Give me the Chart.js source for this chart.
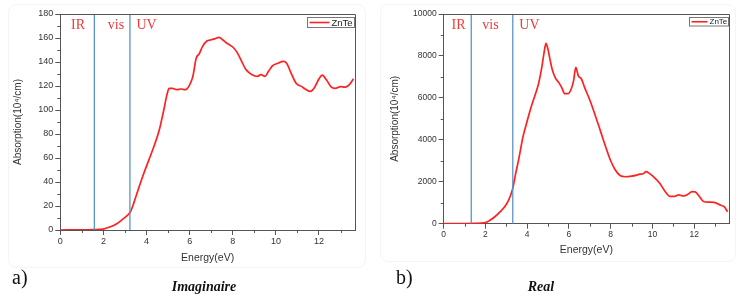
<!DOCTYPE html>
<html>
<head>
<meta charset="utf-8">
<script src="https://cdn.jsdelivr.net/npm/chart.js@4.4.0/dist/chart.umd.min.js"></script>
<style>
  html, body { margin:0; padding:0; background:#fff; }
  #wrap { position:relative; width:737px; height:298px; overflow:hidden; }
  canvas { position:absolute; top:0; }
  .frame { position:absolute; border:1px solid #f5f5f5; border-radius:8px; }
  .cap { position:absolute; font-family:'Liberation Serif','DejaVu Serif',serif; color:#111; white-space:nowrap; }
  .lab { font-size:20px; }
  .ttl { font-size:14px; font-weight:bold; font-style:italic; transform:translateX(-50%); }
</style>
</head>
<body>
<div id="wrap">
  <div class="frame" style="left:8px;top:4px;width:356px;height:262px;"></div>
  <div class="frame" style="left:380px;top:4px;width:354px;height:256px;"></div>
  <canvas id="c1" width="370" height="268" style="left:0;width:370px;height:268px;"></canvas>
  <canvas id="c2" width="367" height="268" style="left:370px;width:367px;height:268px;"></canvas>
  <div class="cap lab" style="left:12px;top:266px;">a)</div>
  <div class="cap ttl" style="left:204px;top:279px;">Imaginaire</div>
  <div class="cap lab" style="left:396px;top:266px;">b)</div>
  <div class="cap ttl" style="left:541px;top:279px;">Real</div>
</div>
<script>
// ---------- data ----------
const seriesName = 'ZnTe';
const regionLabels = ['IR', 'vis', 'UV'];

// (a) Imaginaire
const energyImag = [0, 1.0, 1.5, 2.0, 2.3, 2.6, 2.9, 3.1, 3.25, 3.4, 3.6, 3.85, 4.1, 4.35, 4.6, 4.8, 4.95, 5.05, 5.2, 5.4, 5.6, 5.8, 6.0, 6.15, 6.3, 6.45, 6.6, 6.8, 7.0, 7.2, 7.35, 7.5, 7.7, 8.0, 8.2, 8.4, 8.6, 8.8, 9.0, 9.15, 9.3, 9.5, 9.65, 9.85, 10.1, 10.35, 10.5, 10.7, 10.95, 11.2, 11.4, 11.6, 11.8, 12.0, 12.15, 12.35, 12.55, 12.75, 13.0, 13.2, 13.4, 13.6];
const absImag = [0, 0.1, 0.3, 0.8, 2.5, 5, 9, 12, 15, 22, 33, 46, 58, 70, 84, 100, 113, 118, 118, 117, 117.5, 117, 121, 128, 143, 147, 153, 157.5, 158.5, 159.5, 160.5, 159, 156, 152.5, 148, 141, 134, 130.5, 128.5, 128, 129.5, 128, 132, 137, 139, 140.5, 139, 131, 122, 119.5, 117, 115.5, 119, 126, 129, 125, 119.5, 118, 119.5, 119, 121, 126];
const boundsImag = [1.58, 3.23];
const regionPosImag = [0.82, 2.58, 4.0];
const yTicksImag = [0, 20, 40, 60, 80, 100, 120, 140, 160, 180];
const yMinorImag = [10, 30, 50, 70, 90, 110, 130, 150, 170];

// (b) Real
const energyReal = [0, 1.0, 1.5, 2.0, 2.2, 2.45, 2.7, 2.9, 3.1, 3.3, 3.45, 3.6, 3.8, 4.0, 4.2, 4.4, 4.55, 4.7, 4.8, 4.9, 5.0, 5.1, 5.2, 5.35, 5.5, 5.65, 5.8, 5.95, 6.1, 6.22, 6.33, 6.45, 6.6, 6.75, 7.0, 7.25, 7.5, 7.8, 8.0, 8.2, 8.45, 8.7, 9.0, 9.25, 9.4, 9.55, 9.7, 9.85, 10.05, 10.35, 10.6, 10.85, 11.05, 11.25, 11.5, 11.7, 11.9, 12.05, 12.25, 12.45, 12.7, 12.95, 13.25, 13.45, 13.6];
const absReal = [0, 5, 15, 50, 150, 330, 560, 780, 1100, 1650, 2400, 3100, 4150, 4900, 5600, 6200, 6700, 7450, 8100, 8600, 8300, 7800, 7350, 6950, 6750, 6500, 6200, 6200, 6400, 6800, 7450, 7050, 6900, 6500, 5900, 5200, 4450, 3550, 3000, 2600, 2300, 2240, 2270, 2320, 2360, 2380, 2480, 2400, 2240, 1930, 1550, 1300, 1300, 1370, 1320, 1400, 1530, 1520, 1300, 1060, 1030, 1020, 890, 800, 570];
const boundsReal = [1.32, 3.31];
const regionPosReal = [0.71, 2.24, 4.11];
const yTicksReal = [0, 2000, 4000, 6000, 8000, 10000];
const yMinorReal = [1000, 3000, 5000, 7000, 9000];

const xTicks = [0, 2, 4, 6, 8, 10, 12];
const xMinor = [1, 3, 5, 7, 9, 11, 13];
const xMax = 13.67;

// ---------- drawing ----------
Chart.defaults.font.family = "'Liberation Sans', Arial, sans-serif";
Chart.defaults.color = '#333';

const axisColor = '#555';

const extrasPlugin = {
  id: 'extras',
  afterDraw(chart, args, o) {
    const { ctx, chartArea: a, scales: { x, y } } = chart;
    ctx.save();
    ctx.strokeStyle = axisColor;
    ctx.lineWidth = 1;
    ctx.beginPath();
    ctx.moveTo(a.left, Math.round(a.top) + 0.5);
    ctx.lineTo(Math.round(a.right) + 0.5, Math.round(a.top) + 0.5);
    ctx.lineTo(Math.round(a.right) + 0.5, a.bottom);
    o.xMinor.forEach(v => {
      const px = Math.round(x.getPixelForValue(v)) + 0.5;
      ctx.moveTo(px, a.bottom); ctx.lineTo(px, a.bottom + 3);
    });
    o.yMinor.forEach(v => {
      const py = Math.round(y.getPixelForValue(v)) + 0.5;
      ctx.moveTo(a.left, py); ctx.lineTo(a.left - 3, py);
    });
    ctx.stroke();

    ctx.fillStyle = '#f03a3a';
    ctx.font = "14px 'Liberation Serif', 'DejaVu Serif', serif";
    ctx.textAlign = 'center';
    ctx.textBaseline = 'middle';
    o.regionLabels.forEach((t, i) => {
      ctx.fillText(t, x.getPixelForValue(o.regionPos[i]), a.top + 11);
    });

    const lw = o.legendW, lh = o.legendH;
    const lx = a.right - 1.5 - lw, ly = a.top + 3;
    ctx.strokeStyle = '#777';
    ctx.lineWidth = 1;
    ctx.strokeRect(Math.round(lx) + 0.5, Math.round(ly) + 0.5, lw, lh);
    ctx.strokeStyle = '#ff2020';
    ctx.lineWidth = 1.6;
    ctx.beginPath();
    ctx.moveTo(lx + 3, ly + lh / 2 + 0.5);
    ctx.lineTo(lx + 3 + o.legendLine, ly + lh / 2 + 0.5);
    ctx.stroke();
    ctx.fillStyle = '#222';
    ctx.font = o.legendFont + "px 'Liberation Sans', Arial, sans-serif";
    ctx.textAlign = 'left';
    ctx.fillText(seriesName, lx + 5 + o.legendLine, ly + lh / 2 + 1);
    ctx.restore();
  }
};

function makeChart(id, cfg) {
  const pts = cfg.energy.map((e, i) => ({ x: e, y: cfg.abs[i] }));
  const yMax = cfg.yTicks[cfg.yTicks.length - 1];
  const vlines = cfg.bounds.map(b => ({
    type: 'line',
    data: [{ x: b, y: 0 }, { x: b, y: yMax }],
    borderColor: '#5b93c9',
    borderWidth: 1.3,
    pointRadius: 0,
    tension: 0
  }));
  return new Chart(document.getElementById(id), {
    type: 'line',
    data: {
      datasets: [
        ...vlines,
        {
          label: seriesName,
          data: pts,
          borderColor: '#ff2020',
          borderWidth: 1.7,
          pointRadius: 0,
          cubicInterpolationMode: 'monotone'
        }
      ]
    },
    plugins: [extrasPlugin],
    options: {
      responsive: false,
      animation: false,
      events: [],
      layout: { padding: { left: 0, top: 14, right: cfg.padRight, bottom: 0 } },
      plugins: {
        legend: { display: false },
        tooltip: { enabled: false },
        extras: {
          xMinor, yMinor: cfg.yMinor, regionLabels, regionPos: cfg.regionPos,
          legendW: cfg.legendW, legendH: cfg.legendH, legendLine: cfg.legendLine, legendFont: cfg.legendFont
        }
      },
      scales: {
        x: {
          type: 'linear',
          min: 0, max: xMax,
          afterBuildTicks(s) { s.ticks = xTicks.map(v => ({ value: v })); },
          afterFit(s) { s.height = cfg.xAxisH; },
          ticks: { font: { size: cfg.xTickSize }, padding: cfg.xTickPad, color: '#333', maxRotation: 0, callback: v => String(v) },
          grid: { drawOnChartArea: false, drawTicks: true, tickLength: 5, tickColor: axisColor, tickWidth: 1 },
          border: { display: true, color: axisColor, width: 1 },
          title: { display: true, text: 'Energy(eV)', font: { size: 10.5 }, color: '#333', padding: { top: 0, bottom: cfg.xTitlePad } }
        },
        y: {
          type: 'linear',
          min: 0, max: yMax,
          afterBuildTicks(s) { s.ticks = cfg.yTicks.map(v => ({ value: v })); },
          afterFit(s) { s.width = cfg.yAxisW; },
          ticks: { font: { size: cfg.yTickSize }, padding: 2, color: '#333', callback: v => String(v) },
          grid: { drawOnChartArea: false, drawTicks: true, tickLength: 5, tickColor: axisColor, tickWidth: 1 },
          border: { display: true, color: axisColor, width: 1 },
          title: { display: true, text: 'Absorption(10\u2074/cm)', font: { size: 10 }, color: '#333', padding: { top: cfg.yTitlePad, bottom: 0 } }
        }
      }
    }
  });
}

makeChart('c1', {
  energy: energyImag, abs: absImag, bounds: boundsImag, regionPos: regionPosImag,
  yTicks: yTicksImag, yMinor: yMinorImag,
  padRight: 15, yAxisW: 60.3, xAxisH: 38, xTickSize: 9, yTickSize: 9, xTickPad: 1, xTitlePad: 4, yTitlePad: 12,
  legendW: 47, legendH: 10, legendLine: 20, legendFont: 9.5
});
makeChart('c2', {
  energy: energyReal, abs: absReal, bounds: boundsReal, regionPos: regionPosReal,
  yTicks: yTicksReal, yMinor: yMinorReal,
  padRight: 8, yAxisW: 73.7, xAxisH: 268 - 223.7, xTickSize: 8.5, yTickSize: 8.5, xTickPad: 1, xTitlePad: 12, yTitlePad: 19,
  legendW: 39, legendH: 8.5, legendLine: 16, legendFont: 8
});
</script>
</body>
</html>
